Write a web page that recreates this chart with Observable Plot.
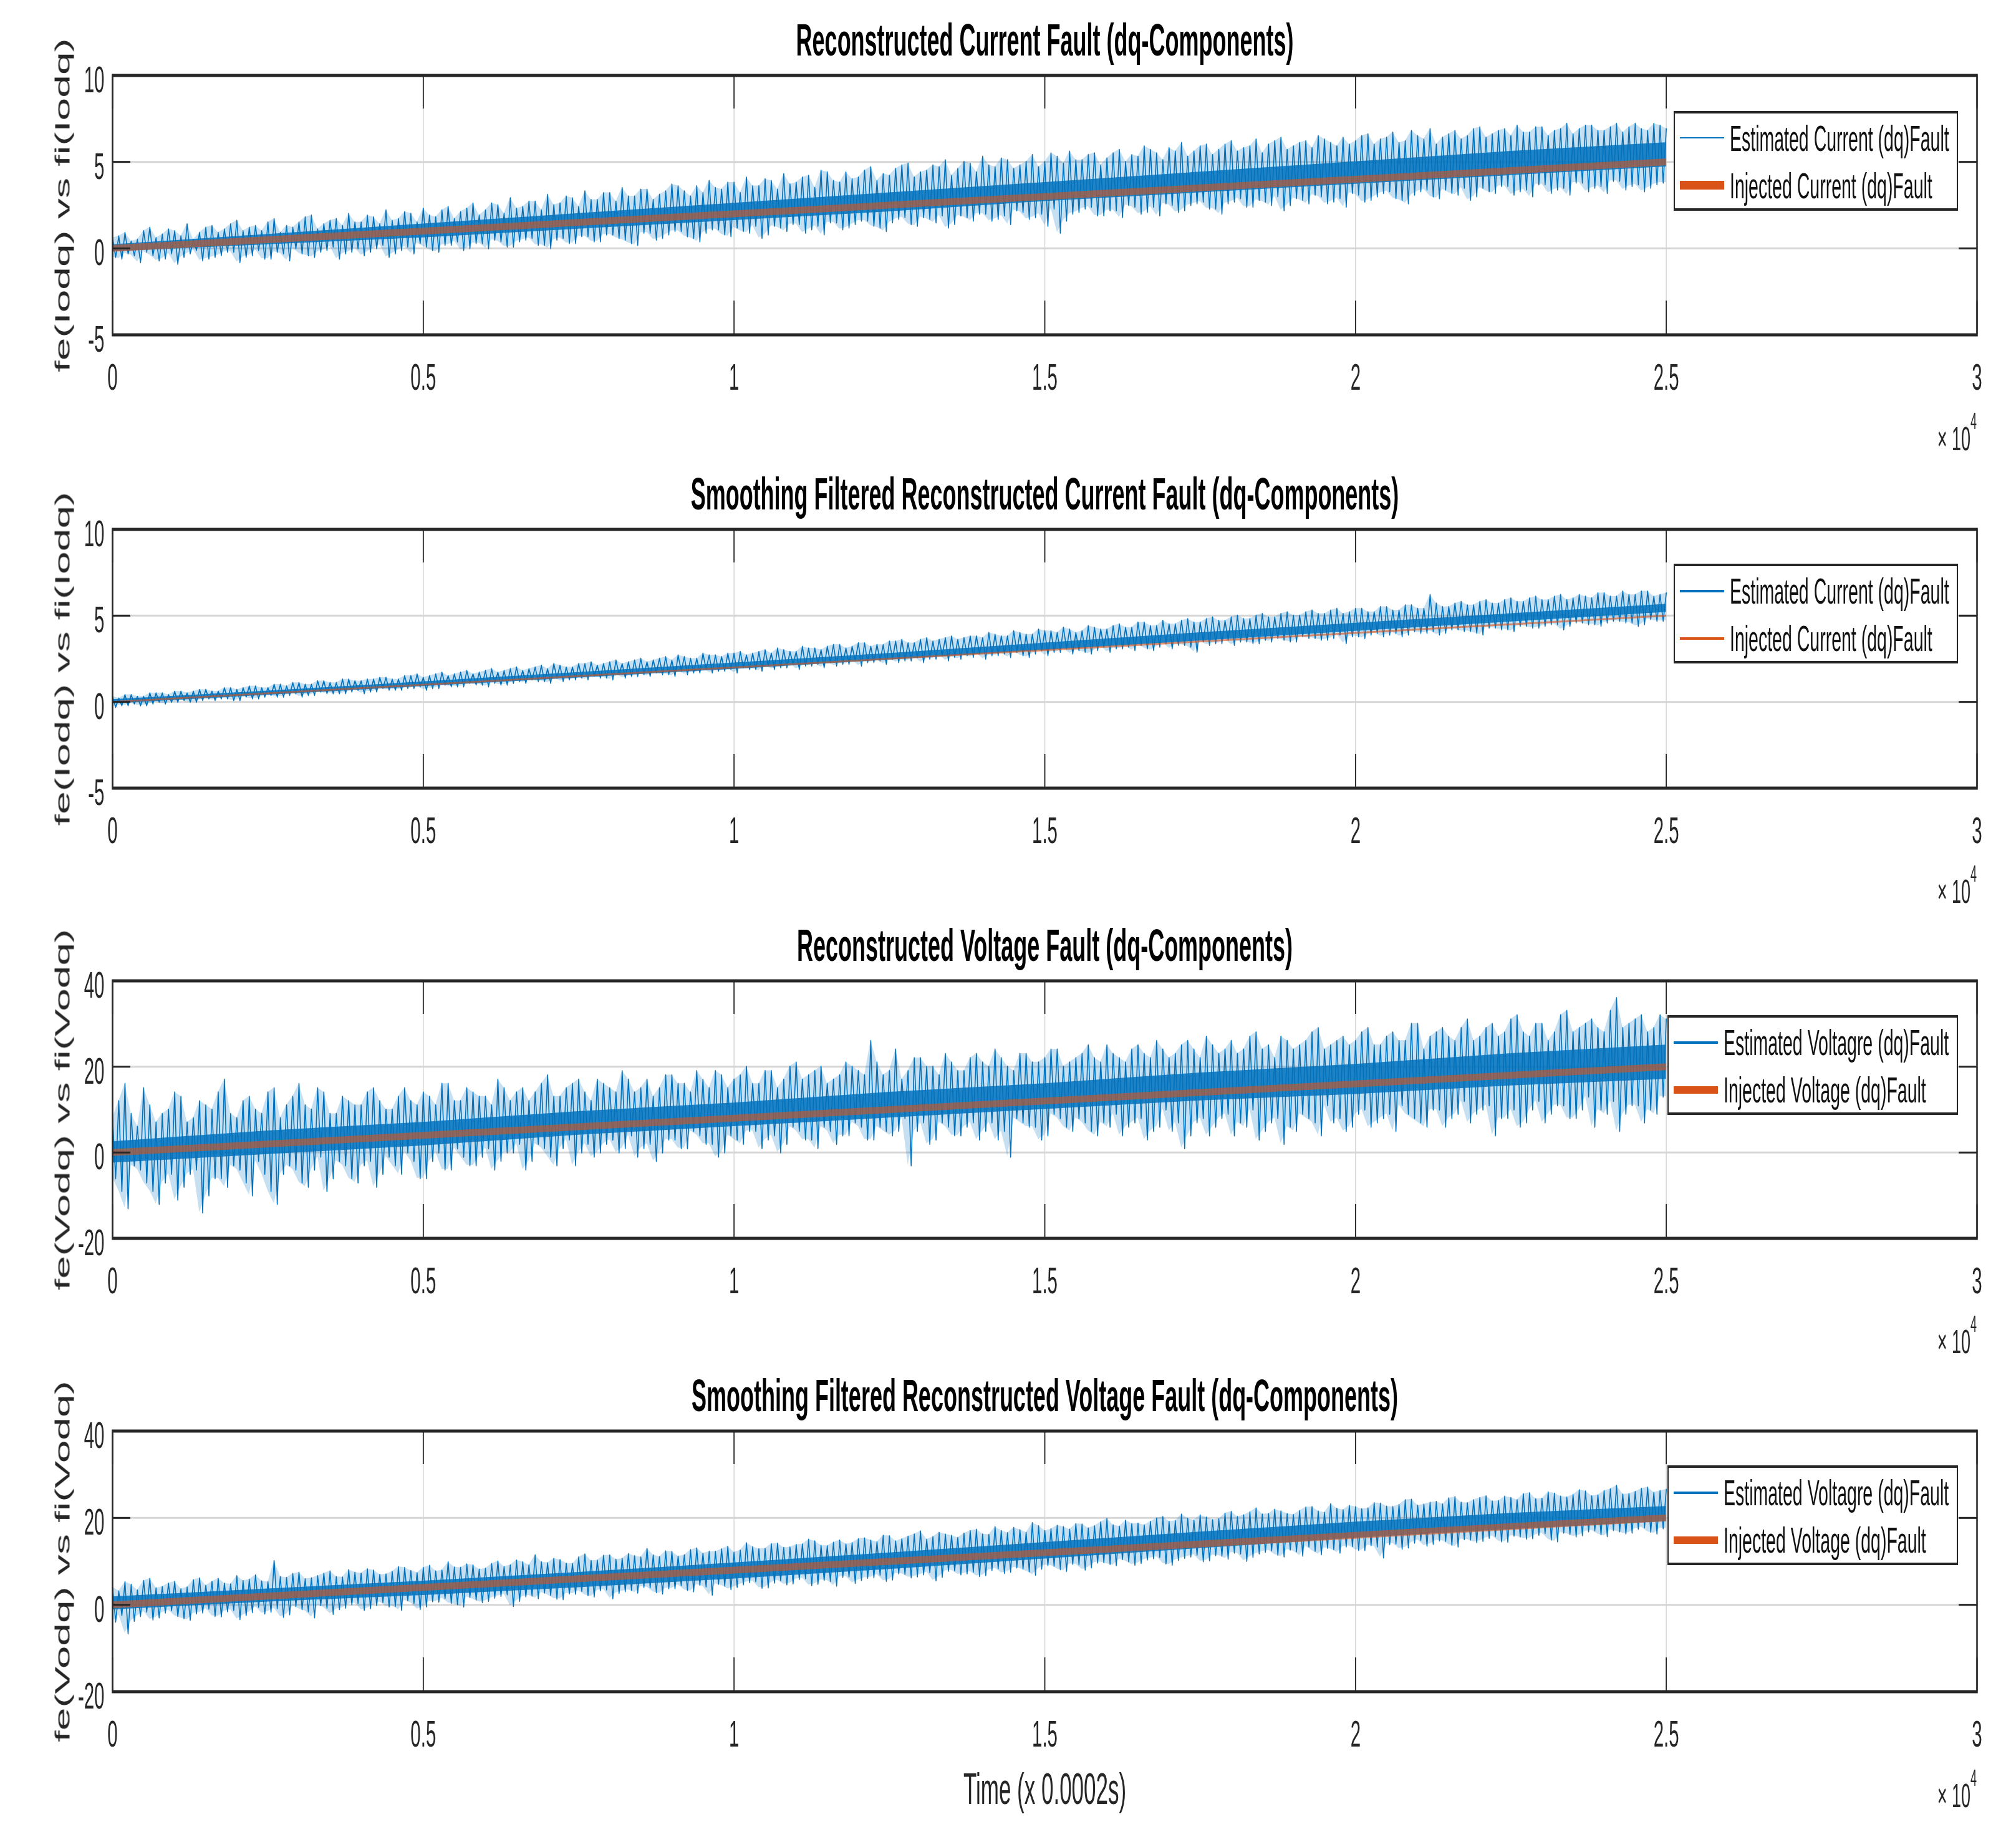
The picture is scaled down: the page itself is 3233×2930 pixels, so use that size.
<!DOCTYPE html>
<html>
<head>
<meta charset="utf-8">
<script src="https://cdn.jsdelivr.net/npm/d3@7"></script>
<script src="https://cdn.jsdelivr.net/npm/@observablehq/plot@0.6"></script>
<style>
  html, body { margin: 0; padding: 0; background: #ffffff; }
  #page { position: relative; width: 3233px; height: 2930px; overflow: hidden; }
  #fig { position: absolute; left: 0; top: 0; width: 3233px; height: 1465px; transform: scaleY(2); transform-origin: 0 0;
         font-family: "Liberation Sans", Arial, Helvetica, sans-serif; color: #262626; }
  .panel { position: absolute; left: 0; width: 3233px; }
  .panel svg { position: absolute; left: 0; top: 0; }
  .legend { position: absolute; box-sizing: border-box; border: 2.5px solid #262626; background: #ffffff; }
  .sw { position: absolute; }
  .ltx { position: absolute; font-size: 28.5px; line-height: 28px; white-space: nowrap; color: #111111; }
  .exp { position: absolute; font-size: 27px; line-height: 27px; white-space: nowrap; color: #262626; }
  .exp span { position: relative; top: -17px; font-size: 18px; line-height: 0; }
</style>
</head>
<body>
<div id="page"><div id="fig"></div></div>
<script>
// ---------------- data ----------------
const titles = [
  "Reconstructed Current Fault (dq-Components)",
  "Smoothing Filtered Reconstructed Current Fault (dq-Components)",
  "Reconstructed Voltage Fault (dq-Components)",
  "Smoothing Filtered Reconstructed Voltage Fault (dq-Components)"
];
const yLabels = ["fe(Iodq) vs fi(Iodq)", "fe(Iodq) vs fi(Iodq)", "fe(Vodq) vs fi(Vodq)", "fe(Vodq) vs fi(Vodq)"];
const estLabels = ["Estimated Current (dq)Fault", "Estimated Current (dq)Fault", "Estimated Voltagre (dq)Fault", "Estimated Voltagre (dq)Fault"];
const injLabels = ["Injected Current (dq)Fault", "Injected Current (dq)Fault", "Injected Voltage (dq)Fault", "Injected Voltage (dq)Fault"];
const xLabel = "Time (x 0.0002s)";

const xTicks = [0, 5000, 10000, 15000, 20000, 25000, 30000];
const xTickLabels = ["0", "0.5", "1", "1.5", "2", "2.5", "3"];
const yTicksCurrent = [-5, 0, 5, 10];
const yTicksVoltage = [-20, 0, 20, 40];

// injected fault ramps (sample index -> value)
const injT = [0, 25000];
const injCurrent = [0, 5];
const injVoltage = [0, 20];

// estimated signal, spikes read in blocks of 200 samples:
// hiA at t = 200i, loA at 200i+50, hiB at 200i+100, loB at 200i+150
const readStep = 200;
const p1HiA = [0.6,0.9,0.5,1.2,0.8,1.0,1.4,0.9,1.3,1.1,
  1.6,1.2,1.0,1.7,1.3,1.5,1.9,1.4,1.7,2.0,
  1.5,1.8,2.2,1.7,2.0,2.3,1.8,2.4,2.1,2.6,
  2.2,2.5,2.9,2.4,2.7,3.1,2.6,2.9,3.3,2.8,
  3.2,3.5,3.0,3.4,3.1,3.7,3.3,3.6,3.9,3.4,
  3.8,4.1,3.6,3.9,4.3,3.8,4.2,4.5,3.9,4.4,
  4.1,4.7,4.3,4.6,4.9,4.4,4.8,5.1,4.6,4.9,
  5.3,4.7,5.1,4.8,5.4,5.0,5.3,5.6,5.1,5.5,
  5.2,5.7,5.4,5.9,5.5,5.8,6.1,5.6,6.0,5.7,
  6.2,5.8,6.3,6.0,6.4,5.9,6.2,6.5,6.1,6.4,
  6.2,6.6,6.3,6.7,6.2,6.5,6.9,6.4,6.8,6.5,
  7.0,6.6,6.9,7.1,6.7,7.0,6.8,7.2,6.9,7.1,
  6.8,7.2,7.0,6.9,7.2,6.9];
const p1LoA = [-0.5,-0.3,-0.8,-0.4,-0.6,-0.9,-0.3,-0.7,-0.5,-0.2,
  -0.8,-0.4,-0.6,-0.2,-0.7,-0.3,-0.5,-0.1,-0.6,-0.2,
  -0.4,0.0,-0.5,-0.1,-0.3,0.1,-0.2,0.2,-0.1,0.3,
  0.0,0.4,0.1,0.5,0.2,0.0,0.6,0.3,0.7,0.4,
  0.8,0.5,0.2,0.9,0.6,1.0,0.7,0.4,1.1,0.8,
  1.2,0.9,0.6,1.3,1.0,1.4,1.1,0.8,1.5,1.2,
  1.6,1.3,1.0,1.7,1.4,1.8,1.5,1.2,1.9,1.6,
  2.0,1.7,1.4,2.1,1.8,1.3,0.9,2.0,2.3,1.9,
  2.2,1.8,2.4,2.1,1.9,2.5,2.2,2.6,2.3,2.0,
  2.7,2.4,2.8,2.5,2.2,2.9,2.6,3.0,2.7,2.4,
  3.1,2.8,3.2,2.9,2.6,3.3,3.0,3.4,3.1,2.8,
  3.5,3.2,3.6,3.3,3.0,3.7,3.4,3.1,3.8,3.5,
  3.2,3.9,3.6,3.3,3.7];
const p1HiB = [0.7,0.4,1.0,0.6,1.1,0.7,0.5,1.2,0.9,1.4,
  1.0,1.3,1.5,0.9,1.2,1.8,1.1,1.6,1.3,1.5,
  1.9,1.4,1.6,2.1,1.5,1.9,2.2,1.7,2.3,1.9,
  2.6,2.0,2.3,2.7,2.2,2.5,3.0,2.4,2.8,3.2,
  2.7,3.0,3.4,2.8,3.3,3.6,3.0,3.2,3.5,3.8,
  3.2,3.6,4.0,3.4,3.7,4.1,3.5,4.4,3.8,4.0,
  4.5,3.9,4.2,4.8,4.1,4.5,4.7,4.2,5.0,4.4,
  4.8,5.2,4.6,5.0,4.7,5.5,4.9,5.1,5.4,4.8,
  5.5,5.0,5.3,5.7,5.1,5.6,5.3,5.9,5.4,6.0,
  5.6,5.9,5.5,6.2,5.7,6.1,5.8,6.3,5.9,6.0,
  6.5,6.0,6.4,6.1,6.8,6.3,6.0,6.6,6.3,6.9,
  6.4,6.8,6.5,6.7,7.0,6.5,6.9,6.6,7.1,6.8,
  7.0,6.7,7.2,6.8,7.1];
const p1LoB = [-0.6,-0.4,-0.2,-0.7,-0.3,-0.5,-0.1,-0.6,-0.4,-0.2,
  -0.5,-0.1,-0.6,-0.3,0.0,-0.4,-0.2,0.1,-0.3,0.0,
  -0.2,0.2,-0.3,0.1,0.3,-0.1,0.2,0.4,0.0,0.3,
  0.5,0.1,0.4,0.6,0.2,0.5,0.3,0.7,0.4,0.8,
  0.6,0.3,0.9,0.5,0.8,1.0,0.6,0.9,1.1,0.7,
  1.0,1.3,0.8,1.2,1.4,0.9,1.3,1.5,1.1,1.4,
  1.6,1.2,1.5,1.8,1.3,1.7,1.9,1.4,1.8,2.0,
  1.6,1.9,2.2,1.7,2.0,2.3,1.6,2.1,2.4,1.9,
  2.2,2.5,2.0,2.4,2.6,2.1,2.5,2.7,2.3,2.6,
  2.9,2.4,2.7,3.0,2.5,2.8,3.1,2.6,2.9,3.2,
  2.7,3.0,3.3,2.8,3.1,3.4,2.9,3.2,3.5,3.0,
  3.3,3.6,3.1,3.4,3.7,3.2,3.5,3.8,3.3,3.6,
  3.9,3.4,3.7,3.5,3.8];

const p2HiA = [0.3,0.4,0.3,0.5,0.5,0.6,0.5,0.7,0.6,0.8,
  0.7,0.9,0.8,1.0,0.9,1.1,1.0,1.2,1.1,1.3,
  1.2,1.3,1.4,1.3,1.5,1.4,1.6,1.5,1.7,1.6,
  1.8,1.7,1.9,1.8,2.0,1.9,2.1,2.0,2.2,2.1,
  2.3,2.2,2.4,2.3,2.5,2.4,2.6,2.5,2.7,2.6,
  2.8,2.7,2.9,2.8,3.0,2.9,3.1,3.0,3.3,3.1,
  3.4,3.2,3.3,3.5,3.4,3.6,3.5,3.7,3.6,3.8,
  3.7,3.9,3.8,4.0,3.9,4.1,4.0,4.2,4.1,4.3,
  4.2,4.5,4.3,4.6,4.4,4.5,4.7,4.6,4.8,4.7,
  4.9,4.8,5.0,4.9,5.1,5.0,5.2,5.1,5.3,5.1,
  5.4,5.2,5.5,5.3,5.6,5.4,6.2,5.5,5.7,5.6,
  5.8,5.7,5.9,5.8,6.0,5.9,6.1,5.9,6.2,6.0,
  6.3,6.1,6.2,6.4,6.1,6.3];
const p2LoA = [-0.3,-0.2,-0.2,-0.1,-0.1,0.0,0.0,0.1,0.1,0.2,
  0.1,0.2,0.3,0.3,0.4,0.3,0.4,0.5,0.5,0.6,
  0.5,0.6,0.7,0.7,0.8,0.7,0.8,0.9,0.9,1.0,
  0.9,1.0,1.1,1.1,1.2,1.1,1.2,1.3,1.3,1.4,
  1.3,1.4,1.5,1.5,1.6,1.5,1.6,1.7,1.7,1.8,
  1.7,1.9,1.8,1.9,2.0,1.9,2.1,2.0,2.1,2.2,
  2.1,2.3,2.2,2.3,2.4,2.3,2.5,2.4,2.5,2.6,
  2.5,2.7,2.6,2.7,2.8,2.7,2.9,2.8,2.9,3.0,
  2.9,3.1,3.0,3.1,3.2,3.1,3.3,2.9,3.3,3.4,
  3.3,3.5,3.4,3.5,3.6,3.5,3.7,3.6,3.7,3.4,
  3.8,3.9,3.8,4.0,3.9,4.0,4.1,4.0,4.2,4.1,
  3.9,4.3,4.2,4.4,4.3,4.4,4.5,4.4,4.6,4.5,
  4.6,4.7,4.6,4.5,4.7];
const p2HiB = [0.2,0.4,0.3,0.5,0.4,0.6,0.6,0.7,0.6,0.8,
  0.8,0.9,0.8,1.0,1.1,1.0,1.2,1.1,1.3,1.2,
  1.3,1.4,1.3,1.5,1.6,1.5,1.7,1.6,1.8,1.7,
  1.9,1.8,2.0,1.9,2.1,2.2,2.0,2.2,2.3,2.2,
  2.4,2.3,2.5,2.4,2.6,2.7,2.5,2.8,2.7,2.8,
  2.9,2.8,3.0,3.1,2.9,3.2,3.1,3.2,3.3,3.2,
  3.4,3.3,3.5,3.6,3.4,3.7,3.6,3.8,3.7,3.8,
  4.0,3.8,4.1,3.9,4.2,4.1,4.3,4.0,4.4,4.2,
  4.4,4.3,4.6,4.4,4.7,4.5,4.8,4.6,4.9,4.7,
  5.0,4.8,5.1,4.9,5.2,5.0,5.3,5.1,5.4,5.2,
  5.4,5.2,5.5,5.3,5.6,5.4,5.7,5.5,5.8,5.6,
  5.9,5.7,6.0,5.8,6.1,5.9,6.2,6.0,6.1,6.3,
  6.1,6.4,6.2,6.4,6.2];
const p2LoB = [-0.2,-0.1,-0.2,0.0,0.0,0.1,0.0,0.2,0.2,0.1,
  0.3,0.2,0.4,0.3,0.5,0.4,0.6,0.5,0.5,0.7,
  0.6,0.8,0.7,0.8,0.9,0.8,1.0,0.9,1.1,1.0,
  1.1,1.0,1.2,1.3,1.2,1.4,1.3,1.4,1.5,1.4,
  1.6,1.5,1.6,1.7,1.6,1.8,1.7,1.9,1.8,1.9,
  2.0,1.9,2.1,2.0,2.2,2.1,2.2,2.3,2.2,2.4,
  2.3,2.4,2.5,2.4,2.6,2.5,2.7,2.6,2.7,2.8,
  2.7,2.8,2.9,2.6,3.0,2.9,3.1,3.0,2.8,3.2,
  3.1,3.2,3.3,3.0,3.4,3.3,3.2,3.5,3.4,3.6,
  3.5,3.4,3.6,3.7,3.5,3.8,3.7,3.6,3.9,3.8,
  3.7,4.0,3.9,3.8,4.1,4.0,3.9,4.2,4.1,4.0,
  4.3,4.2,4.1,4.4,4.3,4.5,4.2,4.6,4.5,4.4,
  4.7,4.6,4.4,4.8,4.7];

const p3HiA = [8,16,6,11,9,14,7,12,10,17,
  8,13,9,15,11,16,10,14,9,12,
  11,15,10,13,12,14,11,16,12,14,
  13,17,12,15,14,18,13,16,14,17,
  15,19,14,17,15,18,16,19,15,18,
  17,20,16,19,17,21,18,20,17,21,
  19,26,18,24,19,22,20,23,19,22,
  21,24,20,23,21,22,24,21,23,22,
  25,22,24,23,26,22,25,24,27,23,
  26,24,28,25,27,24,26,29,25,27,
  26,29,25,28,26,30,27,29,26,31,
  27,30,28,32,27,30,28,33,29,31,
  28,36,30,32,29,31];
const p3LoA = [-6,-13,-4,-9,-7,-11,-5,-14,-6,-8,
  -4,-10,-5,-12,-3,-7,-4,-9,-2,-6,
  -3,-8,-1,-5,-2,-6,0,-4,-1,-3,
  1,-2,0,-4,2,-1,1,-3,2,0,
  3,1,-1,2,0,3,1,4,2,0,
  3,5,1,4,2,5,3,6,2,4,
  6,3,5,5,-3,7,3,6,4,7,
  5,3,-1,7,6,4,8,5,7,4,
  6,4,7,3,6,5,1,7,4,8,
  4,6,3,7,2,5,8,4,7,5,
  9,6,8,5,9,7,10,6,9,7,
  10,4,8,6,10,7,11,8,10,6,
  9,5,11,7,9];
const p3HiB = [12,9,15,7,10,13,8,11,14,9,
  12,10,14,8,13,11,15,9,13,11,
  14,12,10,15,11,13,16,12,15,13,
  11,15,14,12,16,13,15,17,12,16,
  14,17,15,13,18,16,14,17,19,15,
  18,16,19,15,20,17,19,16,18,20,
  18,21,19,17,22,20,18,21,19,23,
  20,22,19,23,21,24,20,22,25,21,
  23,21,25,22,24,23,26,22,25,24,
  23,27,24,22,26,25,28,24,26,25,
  28,25,27,26,30,24,28,27,29,26,
  29,27,31,28,30,26,32,28,30,29,
  33,29,31,28,32];
const p3LoB = [-9,-3,-7,-12,-5,-8,-4,-10,-6,-3,
  -7,-2,-9,-5,-4,-8,-1,-6,-3,-7,
  -2,-5,-3,0,-6,-2,-4,1,-3,-1,
  -4,0,2,-2,1,-3,3,0,-1,2,
  0,4,1,-2,3,1,5,2,-1,4,
  2,5,3,0,6,3,1,5,4,7,
  3,6,4,8,5,2,7,4,6,3,
  7,5,8,6,3,9,6,8,5,7,
  9,6,8,5,10,7,4,8,6,9,
  7,10,5,8,6,9,7,11,8,6,
  10,7,9,11,8,6,10,8,12,9,
  11,8,10,7,12,9,11,8,13,10,
  12,9,11,10,13];

const p4HiA = [4.0,5.2,3.3,6.0,4.1,5.3,4.0,6.1,5.3,4.9,
  6.6,5.8,5.4,10.1,6.2,7.4,6.1,7.2,6.4,8.0,
  7.2,7.9,7.0,8.7,7.8,8.5,7.7,9.8,8.5,9.1,
  8.3,10.0,9.1,9.8,11.4,9.6,10.3,9.4,11.6,10.2,
  11.4,10.6,11.2,12.9,11.0,12.2,11.4,13.0,12.2,12.8,
  12.0,14.2,12.8,14.0,13.1,13.8,15.0,13.6,14.3,13.9,
  15.1,14.8,15.9,14.6,15.7,16.9,15.6,16.2,15.4,17.0,
  16.2,17.9,16.5,17.2,18.8,17.0,18.2,17.3,18.5,18.1,
  19.8,18.0,18.6,18.3,19.9,19.1,20.8,19.4,20.1,19.7,
  21.4,20.6,22.2,20.9,21.5,20.7,22.4,21.5,23.2,21.8,
  22.5,22.2,23.3,22.5,24.1,22.8,23.5,23.1,24.8,23.4,
  24.6,23.8,24.9,24.1,25.7,24.4,25.6,24.7,26.4,25.0,
  26.2,27.4,25.5,26.7,25.8,26.5];
const p4LoA = [-3.9,-6.6,-2.6,-3.4,-1.8,-2.6,-3.5,-1.8,-2.6,-1.5,
  -3.3,-1.7,-2.0,-0.8,-2.2,-1.0,-2.9,-0.7,-1.0,0.1,
  -1.2,-0.1,-0.4,-1.2,0.4,-0.4,0.7,0.4,-0.4,1.2,
  0.9,2.0,-0.3,1.9,1.5,2.2,1.3,2.5,2.2,3.3,
  1.5,3.1,2.8,4.0,2.6,3.8,3.4,4.6,2.3,4.4,
  4.1,5.2,3.9,5.1,4.7,5.9,4.5,5.7,4.4,6.5,
  5.7,6.3,5.5,7.2,6.3,7.0,5.6,7.8,7.0,7.6,
  6.8,8.4,7.6,8.3,6.9,9.1,8.2,9.4,8.1,9.7,
  9.4,10.5,9.2,10.4,11.0,9.2,10.8,11.5,10.2,11.3,
  12.0,10.1,11.8,12.5,11.1,12.3,13.4,11.6,12.8,13.4,
  12.6,13.7,10.9,14.1,13.2,14.9,14.0,14.7,13.4,15.0,
  14.7,15.8,14.5,15.7,15.3,16.5,14.6,16.3,16.0,17.1,
  15.8,16.9,16.6,17.8,16.4];
const p4HiB = [3.1,4.6,5.5,3.8,4.9,3.6,5.7,4.4,6.0,4.7,
  5.5,6.8,5.2,6.4,7.1,5.9,6.6,7.7,6.3,7.4,
  8.2,6.9,7.6,8.5,7.3,9.0,7.9,8.6,9.3,8.1,
  9.4,8.7,10.2,9.1,9.8,10.6,9.5,10.9,10.1,11.3,
  10.4,11.7,10.9,11.4,12.3,11.1,12.6,11.8,12.2,13.4,
  12.5,13.3,12.9,14.1,13.2,13.9,14.6,13.5,14.8,14.2,
  15.3,14.4,15.8,15.1,16.2,15.0,16.6,15.9,16.4,17.3,
  16.1,17.0,17.7,16.6,18.1,17.4,17.9,18.6,17.6,19.0,
  18.3,19.4,18.7,19.1,20.2,19.3,19.8,20.6,19.5,21.0,
  20.2,21.3,20.8,21.9,20.9,21.6,22.5,21.2,22.1,22.8,
  22.0,23.4,22.6,23.0,24.2,23.1,23.7,24.5,23.5,24.1,
  25.0,23.9,24.6,25.5,24.3,25.9,24.9,25.3,26.1,25.2,
  26.6,25.4,26.0,27.0,26.2];
const p4LoB = [-2.4,-3.7,-1.6,-2.9,-1.3,-3.1,-2.0,-0.9,-2.7,-1.2,
  -2.4,-0.5,-1.6,-2.8,-0.3,-1.5,-0.1,-2.1,-0.7,0.4,
  -0.8,0.6,-0.3,1.0,-1.0,0.8,1.5,0.1,1.8,0.6,
  1.6,2.4,0.9,2.1,2.8,1.4,2.6,3.2,1.9,3.5,
  2.7,3.4,4.1,2.9,3.8,4.5,3.1,4.2,4.8,3.6,
  4.7,5.4,4.0,5.6,4.9,6.1,4.8,5.5,6.4,5.0,
  6.2,6.9,5.8,7.1,6.5,7.5,6.4,7.9,7.2,6.6,
  8.0,7.3,8.6,7.7,8.3,9.0,7.8,9.3,8.6,9.8,
  9.1,10.0,9.6,10.7,9.5,10.3,11.1,10.0,11.4,10.6,
  11.8,11.0,12.2,11.5,12.7,11.3,12.4,13.1,12.0,13.5,
  12.6,13.4,14.0,12.9,14.3,13.6,14.8,13.8,15.1,14.4,
  15.4,14.6,15.9,15.2,16.1,15.0,16.6,15.7,16.9,16.2,
  17.2,16.4,17.5,16.8,17.6];

// dense core of the estimated band, read every 2500 samples
const coreT = [0, 2500, 5000, 7500, 10000, 12500, 15000, 17500, 20000, 22500, 25000];
const p1CoreHi = [0.2, 0.8, 1.4, 2.0, 2.6, 3.2, 3.8, 4.4, 5.0, 5.6, 6.1];
const p1CoreLo = [-0.2, 0.2, 0.6, 1.1, 1.6, 2.1, 2.7, 3.2, 3.7, 4.2, 4.7];
const p2CoreHi = [0.12, 0.62, 1.15, 1.7, 2.25, 2.8, 3.4, 4.0, 4.55, 5.1, 5.65];
const p2CoreLo = [-0.12, 0.38, 0.88, 1.38, 1.88, 2.42, 2.98, 3.52, 4.08, 4.62, 5.18];
const p3CoreHi = [2.5, 5, 7, 9.5, 11.5, 14, 16, 18.5, 20.5, 23, 25];
const p3CoreLo = [-2.5, -0.5, 1.5, 4, 6, 8, 10, 12, 13.5, 15.5, 17];
const p4CoreHi = [1.8, 3.6, 5.4, 7.4, 9.6, 11.9, 14.3, 16.7, 19, 21, 22.6];
const p4CoreLo = [-1.2, 0.6, 2.1, 3.9, 5.9, 8.1, 10.5, 12.9, 15.3, 17.3, 19.1];

// ---------------- layout & style ----------------
const BLUE = "#0072BD", ORANGE = "#D95319", AX = "#262626", GRID = "#d6d6d6";
const FONT = '"Liberation Sans", Arial, Helvetica, sans-serif';
const W = 3233, ML = 180, MR = 63, MT = 60;
const FW = W - ML - MR;
const panelTops = [0, 363.5, 725.5, 1086.5];
const frameHs = [208, 207.5, 206.5, 209];
const panelHs = [362, 362, 361, 378.5];
const injWidths = [5.5, 1.5, 5.5, 5.5];
const injLegendWidths = [6.5, 1.5, 6.5, 6.5];
const legendLefts = [2684, 2684, 2674, 2674];

const panels = [
  {hiA: p1HiA, loA: p1LoA, hiB: p1HiB, loB: p1LoB, coreHi: p1CoreHi, coreLo: p1CoreLo, inj: injCurrent, yDomain: [-5, 10], yTicks: yTicksCurrent},
  {hiA: p2HiA, loA: p2LoA, hiB: p2HiB, loB: p2LoB, coreHi: p2CoreHi, coreLo: p2CoreLo, inj: injCurrent, yDomain: [-5, 10], yTicks: yTicksCurrent},
  {hiA: p3HiA, loA: p3LoA, hiB: p3HiB, loB: p3LoB, coreHi: p3CoreHi, coreLo: p3CoreLo, inj: injVoltage, yDomain: [-20, 40], yTicks: yTicksVoltage},
  {hiA: p4HiA, loA: p4LoA, hiB: p4HiB, loB: p4LoB, coreHi: p4CoreHi, coreLo: p4CoreLo, inj: injVoltage, yDomain: [-20, 40], yTicks: yTicksVoltage}
];

// table of the estimated signal, in reading order
function signal(p) {
  const out = [];
  for (let i = 0; i < p.hiA.length; i++) {
    const t0 = i * readStep;
    out.push({t: t0, v: p.hiA[i]});
    if (i < p.loA.length) {
      out.push({t: t0 + readStep / 4, v: p.loA[i]});
      out.push({t: t0 + readStep / 2, v: p.hiB[i]});
      out.push({t: t0 + 3 * readStep / 4, v: p.loB[i]});
    }
  }
  return out;
}
// upper / lower spike envelope, paired per half block
function envelope(p) {
  const out = [];
  for (let i = 0; i < p.hiA.length; i++) {
    const t0 = i * readStep;
    if (i < p.loA.length) {
      out.push({t: t0, hi: p.hiA[i], lo: p.loA[i]});
      out.push({t: t0 + readStep / 2, hi: p.hiB[i], lo: p.loB[i]});
    } else {
      out.push({t: t0, hi: p.hiA[i], lo: p.loB[i - 1]});
    }
  }
  return out;
}

function box(cls, css, text) {
  const d = document.createElement("div");
  d.className = cls;
  Object.assign(d.style, css);
  if (text !== undefined) d.textContent = text;
  return d;
}

const fig = document.getElementById("fig");

panels.forEach((p, k) => {
  const H = panelHs[k], FH = frameHs[k];
  const div = box("panel", {top: panelTops[k] + "px", height: H + "px"});
  const est = signal(p);
  const env = envelope(p);
  const core = coreT.map((t, i) => ({t, hi: p.coreHi[i], lo: p.coreLo[i]}));
  const inj = injT.map((t, i) => ({t, v: p.inj[i]}));

  const marks = [
    Plot.gridX(xTicks, {stroke: GRID, strokeOpacity: 1, strokeWidth: 1.5}),
    Plot.gridY(p.yTicks, {stroke: GRID, strokeOpacity: 1, strokeWidth: 1.5}),
    Plot.areaY(env, {x: "t", y1: "lo", y2: "hi", fill: BLUE, fillOpacity: 0.22}),
    Plot.areaY(core, {x: "t", y1: "lo", y2: "hi", fill: BLUE, fillOpacity: 0.85}),
    Plot.line(est, {x: "t", y: "v", stroke: BLUE, strokeWidth: 1.6}),
    Plot.line(inj, {x: "t", y: "v", stroke: ORANGE, strokeWidth: injWidths[k], strokeOpacity: 0.6, strokeLinecap: "butt"}),
    Plot.tickX(xTicks, {x: d => d, insetBottom: FH - 27, stroke: AX, strokeWidth: 1.8}),
    Plot.tickX(xTicks, {x: d => d, insetTop: FH - 27, stroke: AX, strokeWidth: 1.8}),
    Plot.tickY(p.yTicks, {y: d => d, insetRight: FW - 29, stroke: AX, strokeWidth: 1.5}),
    Plot.tickY(p.yTicks, {y: d => d, insetLeft: FW - 29, stroke: AX, strokeWidth: 1.5}),
    Plot.axisX(xTicks, {anchor: "bottom", tickSize: 0, tickPadding: 23, fontSize: 29.5, label: null,
      tickFormat: d => xTickLabels[xTicks.indexOf(d)]}),
    Plot.axisY(p.yTicks, {anchor: "left", tickSize: 0, tickPadding: 13, fontSize: 29.5, label: null, dy: 4,
      tickFormat: d => String(d)}),
    Plot.frame({stroke: AX, strokeWidth: 2.5}),
    Plot.text([titles[k]], {frameAnchor: "top", lineAnchor: "bottom", dy: -16, fontSize: 36, fontWeight: "bold", fill: "#000000"}),
    Plot.text([yLabels[k]], {frameAnchor: "left", dx: -80, rotate: -90, textAnchor: "middle", lineAnchor: "middle", fontSize: 33})
  ];
  if (k === panels.length - 1) {
    marks.push(Plot.text([xLabel], {frameAnchor: "bottom", lineAnchor: "middle", dy: 79, fontSize: 35}));
  }

  const svg = Plot.plot({
    width: W, height: H,
    marginLeft: ML, marginRight: MR, marginTop: MT, marginBottom: H - MT - FH,
    x: {domain: [0, 30000]},
    y: {domain: p.yDomain},
    style: {fontFamily: FONT, background: "transparent", color: AX, overflow: "visible"},
    marks
  });
  div.appendChild(svg);

  // legend
  const lgLeft = legendLefts[k], lgTop = MT + 28.5, lgH = 80, lgRight = 3140;
  div.appendChild(box("legend", {left: lgLeft + "px", top: lgTop + "px", width: (lgRight - lgLeft) + "px", height: lgH + "px"}));
  [[estLabels[k], BLUE, 1.5, 22], [injLabels[k], ORANGE, injLegendWidths[k], 60]].forEach(([txt, col, w, off]) => {
    const y = lgTop + off;
    div.appendChild(box("sw", {left: (lgLeft + 10) + "px", top: (y - w / 2) + "px", width: "71px", height: w + "px", background: col}));
    div.appendChild(box("ltx", {left: (lgLeft + 90) + "px", top: (y - 14) + "px"}, txt));
  });

  // x10^4 exponent label
  const ex = box("exp", {right: MR + "px", top: (MT + FH + 71) + "px"}, "× 10");
  const sup = document.createElement("span");
  sup.textContent = "4";
  ex.appendChild(sup);
  div.appendChild(ex);

  fig.appendChild(div);
});
</script>
</body>
</html>
